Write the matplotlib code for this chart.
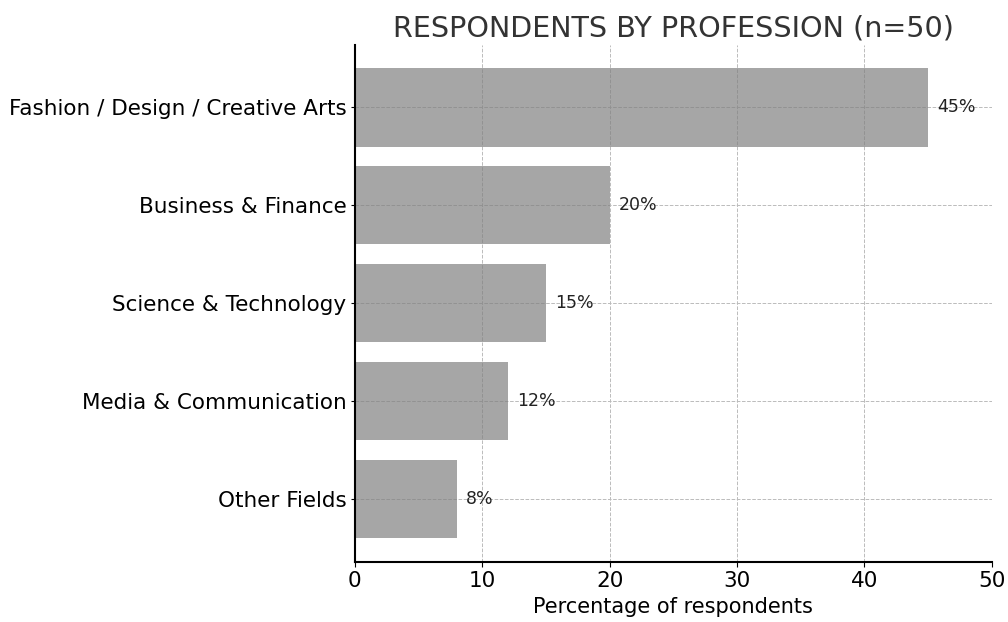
import matplotlib.pyplot as plt

professions = ['Fashion / Design / Creative Arts', 'Business & Finance',
               'Science & Technology', 'Media & Communication', 'Other Fields']
percentages = [45, 20, 15, 12, 8]

fig, ax = plt.subplots(figsize=(10.08, 6.22), dpi=100)

ypos = range(len(professions))
ax.barh(ypos, percentages, height=0.8, color='gray', alpha=0.7, zorder=2)
ax.invert_yaxis()
ax.set_yticks(list(ypos))
ax.set_yticklabels(professions, fontsize=15.5)

for y, pct in zip(ypos, percentages):
    ax.text(pct + 0.7, y, f'{pct}%', va='center', ha='left', fontsize=12.5, color='#222222')

ax.set_xlim(0, 50)
ax.tick_params(axis='x', labelsize=15.5)
ax.tick_params(axis='y', length=3, pad=3)
ax.set_xlabel('Percentage of respondents', fontsize=15)
ax.set_title('RESPONDENTS BY PROFESSION (n=50)', fontsize=20.6, color='#333333')

ax.grid(True, linestyle='--', linewidth=0.7, color='#bbbbbb', zorder=1)
ax.set_axisbelow(True)
ax.spines['top'].set_visible(False)
ax.spines['right'].set_visible(False)
ax.spines['left'].set_linewidth(1.5)
ax.spines['bottom'].set_linewidth(1.5)

plt.subplots_adjust(left=0.352, right=0.984, top=0.928, bottom=0.097)
plt.savefig('out.png', dpi=100)
